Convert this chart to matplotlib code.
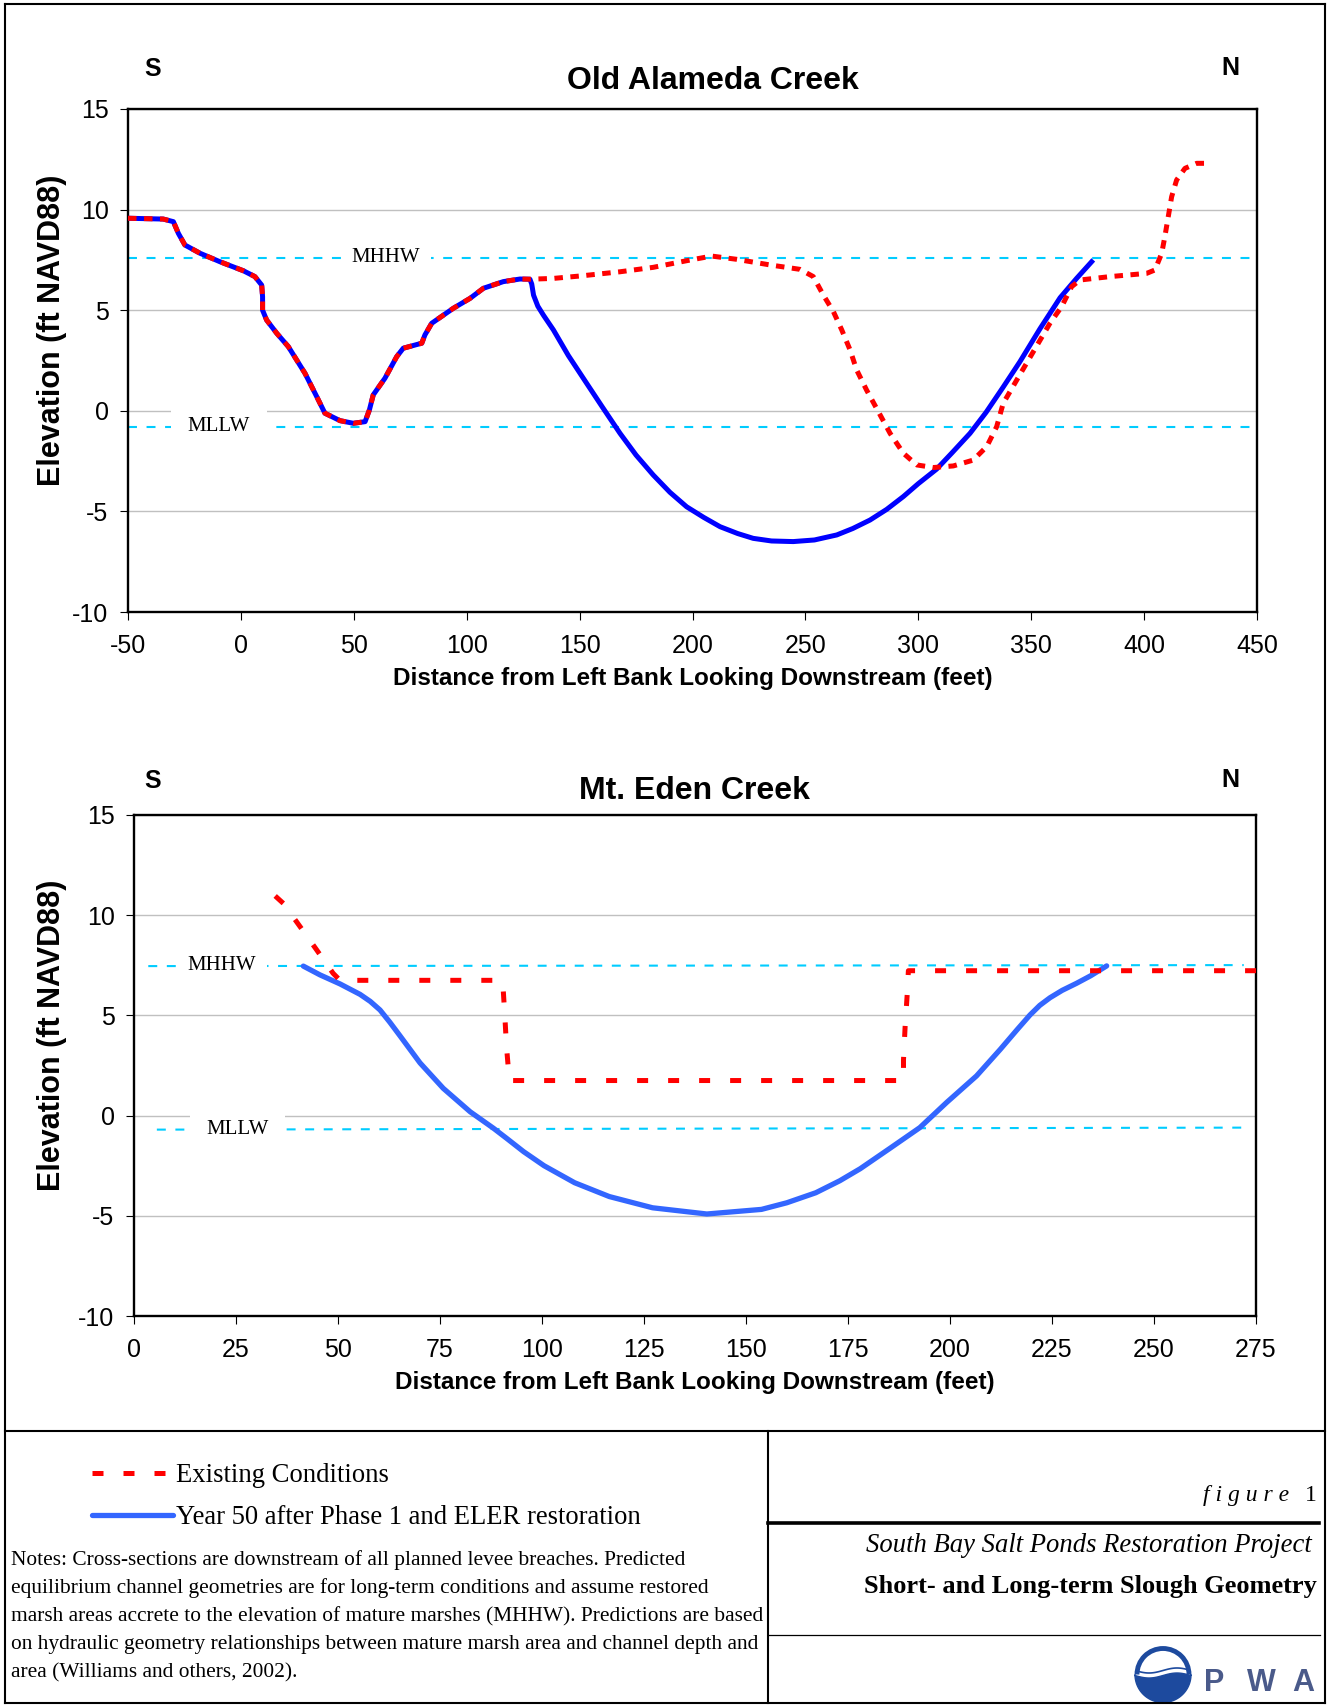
import numpy as np
import matplotlib
matplotlib.use('Agg')
import matplotlib.pyplot as plt
from matplotlib.lines import Line2D
from matplotlib.patches import Arc, Polygon

SANS = 'Liberation Sans'
SERIF = 'Liberation Serif'
plt.rcParams['font.family'] = SANS
plt.rcParams['axes.unicode_minus'] = False

W, H = 1327, 1705

# ---- Old Alameda Creek ----
# bank section shared by both profiles (feet, ft NAVD88)
oac_bank_x = [-50, -34.4, -29.9, -27.7, -24.8, -18.1, -9.3, 1.1, 6.2, 9.2, 9.6, 9.6, 11.4,
              15.9, 21.0, 28.4, 33.6, 37.2, 43.9, 49.8, 55.0, 56.9, 58.6, 63.8, 69.0, 71.9,
              80.1, 81.5, 84.5, 94.0, 101.5, 107.4, 116.2, 123.6, 128.0]
oac_bank_y = [9.57, 9.53, 9.4, 8.82, 8.24, 7.83, 7.41, 6.96, 6.67, 6.25, 5.67, 5.0, 4.51,
              3.85, 3.19, 1.86, 0.70, -0.12, -0.49, -0.62, -0.54, 0.04, 0.79, 1.62, 2.69, 3.11,
              3.36, 3.77, 4.35, 5.09, 5.59, 6.09, 6.42, 6.55, 6.54]
oac_exist_x = [138.4, 150.2, 167.9, 182.6, 197.4, 208.5, 219.5, 234.3, 247.6, 253.5, 257.9,
               262.4, 266.1, 269.8, 272.7, 277.1, 282.3, 287.5, 293.4, 299.3, 306.7, 315.5,
               324.3, 330.3, 334.7, 337.6, 343.6, 358.3, 363.5, 367.9, 371.6, 384.9, 401.1,
               404.8, 407.8, 409.2, 410.7, 412.2, 414.4, 418.1, 423.3, 429.2]
oac_exist_y = [6.58, 6.70, 6.91, 7.13, 7.46, 7.69, 7.53, 7.25, 7.03, 6.67, 5.76,
               4.93, 4.02, 3.02, 2.03, 1.03, -0.04, -1.12, -2.11, -2.69, -2.82, -2.74,
               -2.45, -1.78, -0.79, 0.37, 1.53, 4.35, 5.18, 6.17, 6.50, 6.67, 6.83,
               7.0, 7.83, 8.66, 9.65, 10.64, 11.47, 12.05, 12.30, 12.30]
oac_y50_x = [128.8, 129.6, 131.5, 134.0, 138.4, 145.0, 153.1, 160, 167.9, 175, 182.6, 190,
             197.4, 205, 212.2, 220, 226.9, 235, 244.6, 254, 263.9, 271, 278.6, 286, 293.4,
             300, 308.1, 315, 322.9, 330, 337.6, 345.0, 353.9, 362.8, 370.1, 377.5]
oac_y50_y = [6.3, 5.75, 5.2, 4.75, 4.02, 2.75, 1.37, 0.2, -1.12, -2.2, -3.19, -4.05,
             -4.77, -5.3, -5.76, -6.1, -6.34, -6.47, -6.50, -6.42, -6.17, -5.85, -5.43, -4.9, -4.26,
             -3.62, -2.9, -2.08, -1.12, -0.08, 1.18, 2.44, 4.08, 5.62, 6.58, 7.5]
oac_mhhw = 7.6
oac_mllw = -0.8

# ---- Mt. Eden Creek ----
mec_exist_x = [34.6, 36.6, 40.7, 44.8, 48.8, 50.5, 89.7, 90.4, 90.9, 91.3, 92.0, 188.6,
               188.6, 189.0, 189.5, 189.8, 275]
mec_exist_y = [10.96, 10.59, 9.43, 8.26, 7.10, 6.75, 6.75, 6.60, 4.94, 3.44, 1.75, 1.75,
               2.77, 4.44, 6.02, 7.23, 7.23]
mec_y50_x = [41.5, 45.6, 50.5, 55.4, 57.9, 60.3, 62.7, 65.2, 70.1, 75.8, 82.4, 88.1, 91.3,
             95.5, 100.5, 108.0, 116.5, 127.1, 140.4, 153.8, 160.0, 167.1, 173.0, 178.0,
             185.3, 192.6, 199.2, 206.5, 212.3, 216.5, 219.6, 222.0, 224.5, 227.5, 231.0,
             234.5, 238.4]
mec_y50_y = [7.46, 7.02, 6.57, 6.05, 5.7, 5.27, 4.66, 3.98, 2.63, 1.36, 0.19, -0.63, -1.13,
             -1.8, -2.5, -3.35, -4.04, -4.6, -4.91, -4.68, -4.35, -3.85, -3.25, -2.65,
             -1.63, -0.6, 0.66, 1.98, 3.3, 4.3, 5.02, 5.5, 5.88, 6.25, 6.6,
             6.98, 7.47]
mec_mhhw_x = [3.5, 272]
mec_mhhw_y = [7.46, 7.51]
mec_mllw_x = [5.6, 272]
mec_mllw_y = [-0.70, -0.60]

yticks = [-10, -5, 0, 5, 10, 15]
legend_labels = ['Existing Conditions', 'Year 50 after Phase 1 and ELER restoration']
notes_lines = [
    'Notes: Cross-sections are downstream of all planned levee breaches. Predicted',
    'equilibrium channel geometries are for long-term conditions and assume restored',
    'marsh areas accrete to the elevation of mature marshes (MHHW). Predictions are based',
    'on hydraulic geometry relationships between mature marsh area and channel depth and',
    'area (Williams and others, 2002).',
]

RED = '#FF0000'
CYAN = '#00CCFF'


def fx(px):
    return px / W


def fy(py):
    return 1 - py / H


def box(l, t, r, b):
    return [fx(l), fy(b), (r - l) / W, (b - t) / H]


def style_axes(ax, xlim, xticks, title, title_x, title_pad, ylab_x):
    ax.set_xlim(xlim)
    ax.set_ylim(-10, 15)
    ax.set_xticks(xticks)
    ax.set_yticks(yticks)
    ax.set_axisbelow(True)
    ax.yaxis.grid(True, color='#C0C0C0', lw=1.0)
    for s in ax.spines.values():
        s.set_linewidth(1.7)
    ax.tick_params(axis='both', direction='out', length=6, width=0.8, labelsize=18)
    ax.tick_params(axis='x', pad=10)
    ax.tick_params(axis='y', pad=8)
    ax.set_title(title, fontsize=23, fontweight='bold', x=title_x, pad=title_pad)
    ax.set_xlabel('Distance from Left Bank Looking Downstream (feet)', fontsize=17.5,
                  fontweight='bold', labelpad=6)
    ax.set_ylabel('Elevation (ft NAVD88)', fontsize=22, fontweight='bold')
    ax.yaxis.set_label_coords(ylab_x, 0.56)


def tide_label(ax, x, y, s, pad):
    ax.text(x, y, s, family=SERIF, fontsize=15, ha='center', va='center', zorder=3,
            bbox=dict(facecolor='white', edgecolor='none', pad=pad))


fig = plt.figure(figsize=(W / 100, H / 100), dpi=100)

# ---- top panel ----
ax1 = fig.add_axes(box(128, 109, 1257, 612))
ax1.plot([-50, 450], [oac_mhhw, oac_mhhw], color=CYAN, lw=1.5, dashes=(4.3, 4.6), zorder=2)
ax1.plot([-50, 450], [oac_mllw, oac_mllw], color=CYAN, lw=1.5, dashes=(4.3, 4.6), zorder=2)
tide_label(ax1, 64.3, oac_mhhw, 'MHHW', 8)
tide_label(ax1, -9.7, oac_mllw, 'MLLW', 12)
ax1.plot(oac_bank_x + oac_y50_x, oac_bank_y + oac_y50_y, color='#0000FF', lw=3.6,
         solid_capstyle='butt', solid_joinstyle='round', zorder=4)
ax1.plot(oac_bank_x + oac_exist_x, oac_bank_y + oac_exist_y, color=RED, lw=3.6,
         dashes=(1.7, 1.5), zorder=5)
style_axes(ax1, (-50, 450), range(-50, 451, 50), 'Old Alameda Creek', 0.518, 14.5,
           (67 - 128) / 1129)

# ---- bottom panel ----
ax2 = fig.add_axes(box(134, 815, 1256, 1316))
ax2.plot(mec_mhhw_x, mec_mhhw_y, color=CYAN, lw=1.5, dashes=(4.3, 4.6), zorder=2)
ax2.plot(mec_mllw_x, mec_mllw_y, color=CYAN, lw=1.5, dashes=(4.3, 4.6), zorder=2)
tide_label(ax2, 21.5, 7.47, 'MHHW', 8)
tide_label(ax2, 25.4, -0.68, 'MLLW', 12)
blue2, = ax2.plot(mec_y50_x, mec_y50_y, color='#3366FF', lw=3.8, solid_capstyle='round',
                  solid_joinstyle='round', zorder=4)
red2, = ax2.plot(mec_exist_x, mec_exist_y, color=RED, lw=3.6, dashes=(2.2, 4.0), zorder=5)
style_axes(ax2, (0, 275), range(0, 276, 25), 'Mt. Eden Creek', 0.4995, 11.5,
           (67 - 134) / 1122)


def ftext(px, py, s, size, **kw):
    fig.text(fx(px), fy(py), s, fontsize=size, va='baseline', **kw)


# S / N markers
for py in (76, 788):
    ftext(153, py, 'S', 18, ha='center', fontweight='bold')
    ftext(1230, py - 1, 'N', 18, ha='center', fontweight='bold')

# ---- page frame ----
def fline(x0, y0, x1, y1, lw):
    fig.add_artist(Line2D([fx(x0), fx(x1)], [fy(y0), fy(y1)], color='black', lw=lw,
                          transform=fig.transFigure))

fline(5, 4, 1325, 4, 1.5)
fline(5, 1703, 1325, 1703, 1.5)
fline(5, 4, 5, 1703, 1.5)
fline(1325, 4, 1325, 1703, 1.5)
fline(5, 1431, 1325, 1431, 1.5)
fline(768, 1431, 768, 1703, 1.5)
fline(768, 1523, 1319, 1523, 2.6)
fline(768, 1635, 1320, 1635, 0.9)

# ---- legend ----
fig.legend(handles=[red2, blue2], labels=legend_labels, loc='upper left',
           bbox_to_anchor=(fx(92), fy(1463)), bbox_transform=fig.transFigure,
           frameon=False, borderpad=0, borderaxespad=0, handlelength=3.03,
           handletextpad=0.12, labelspacing=0.64, prop={'family': SERIF, 'size': 19.2})

# ---- notes ----
for i, line in enumerate(notes_lines):
    ftext(11, 1565 + 28 * i, line, 15.4, family=SERIF, ha='left')

# ---- title block ----
ftext(1289, 1501, 'f i g u r e', 17, family=SERIF, style='italic', ha='right')
ftext(1317, 1501, '1', 17, family=SERIF, ha='right')
ftext(1312, 1552, 'South Bay Salt Ponds Restoration Project', 19.2, family=SERIF,
      style='italic', ha='right')
ftext(1317, 1593, 'Short- and Long-term Slough Geometry', 19, family=SERIF,
      fontweight='bold', ha='right')

# ---- PWA logo ----
NAVY = '#1D4A9E'
axl = fig.add_axes(box(1133, 1645, 1193, 1705))
axl.set_xlim(0, 60)
axl.set_ylim(0, 60)
axl.axis('off')
cx, cy, r = 30, 30.5, 28
axl.add_patch(Arc((cx, cy), 2 * r - 4, 2 * r - 4, theta1=0, theta2=180, lw=3.5, color=NAVY))
t = np.linspace(0, np.pi, 60)
wave_x = cx - r + 2 * r * t / np.pi
wave_y = cy - 1 + 2.5 * np.sin(2 * t + np.pi)
ang = np.linspace(np.pi, 2 * np.pi, 60)
bottom = np.column_stack([cx + r * np.cos(ang), cy + r * np.sin(ang)])
poly = np.vstack([bottom, np.column_stack([wave_x[::-1], wave_y[::-1]])])
axl.add_patch(Polygon(poly, closed=True, color=NAVY))
axl.plot(wave_x[4:-4], wave_y[4:-4] + 5, color=NAVY, lw=1.2)
for lx, ch in zip((1214, 1261, 1303), 'PWA'):
    ftext(lx, 1691, ch, 22, ha='center', fontweight='bold', color='#4A5A8A')

fig.savefig('out.png', dpi=100)
